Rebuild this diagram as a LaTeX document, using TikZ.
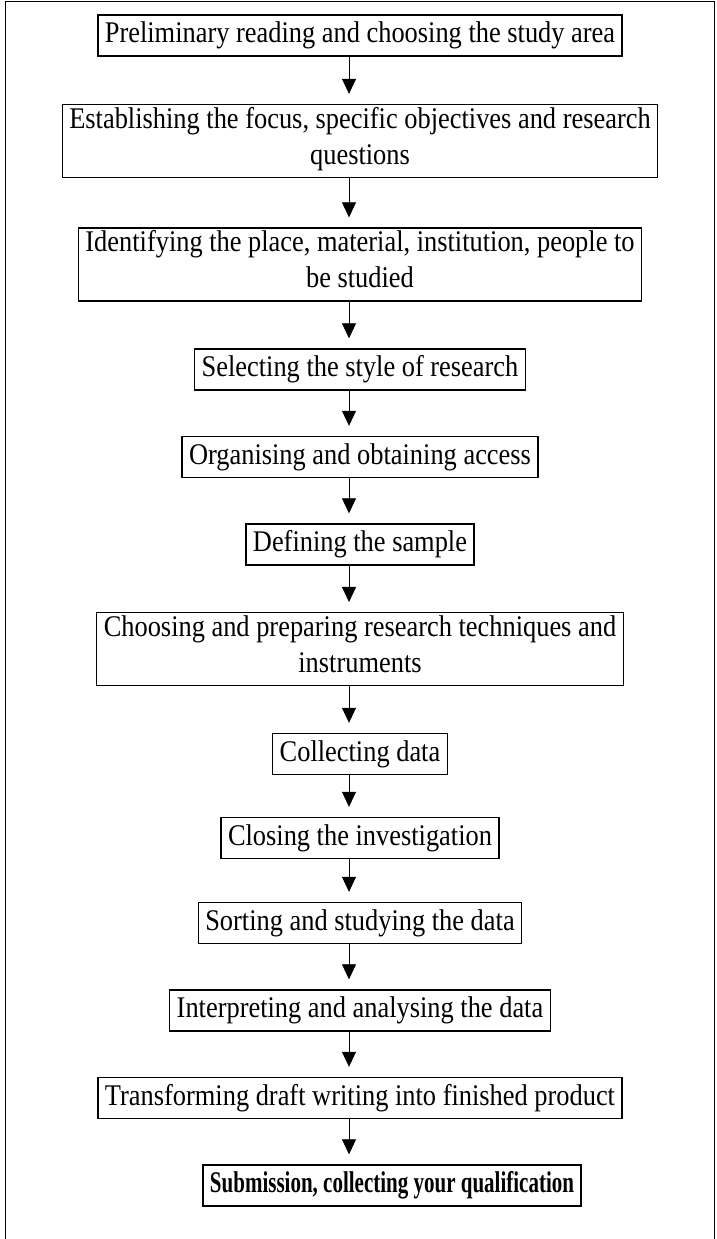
\documentclass[tikz,border=0pt]{standalone}
\usepackage{fontspec}
\setmainfont{Liberation Serif}[FakeStretch=0.88]
\newfontfamily\subfont{Liberation Serif}[FakeStretch=0.70]
\usetikzlibrary{arrows.meta}

\begin{document}
\begin{tikzpicture}[x=1pt,y=-1pt,->,>={Triangle[width=14pt,length=15pt]},shorten >=10pt,
                    main node/.style={rectangle,draw,line width=1.4pt,align=center,
                    inner xsep=7pt,inner ysep=2.5pt,font=\fontsize{30}{36}\selectfont,
                    execute at begin node=\strut,execute at end node=\strut}]
\useasboundingbox (0,0) rectangle (717,1239);
\draw[-,shorten >=0pt,line width=1pt] (5,1239) -- (5,2) -- (714,2) -- (714,1239);

\node[main node] (1) at (360,35.5) {Preliminary reading and choosing the study area};
\node[main node] (2) at (360,141) {Establishing the focus, specific objectives and research\\questions};
\node[main node] (3) at (360,264.5) {Identifying the place, material, institution, people to\\be studied};
\node[main node] (4) at (360,369.5) {Selecting the style of research};
\node[main node] (5) at (360,457) {Organising and obtaining access};
\node[main node] (6) at (360,544.5) {Defining the sample};
\node[main node] (7) at (360,649) {Choosing and preparing research techniques and\\instruments};
\node[main node] (8) at (360,754) {Collecting data};
\node[main node] (9) at (360,838) {Closing the investigation};
\node[main node] (10) at (360,923) {Sorting and studying the data};
\node[main node] (11) at (360,1010.5) {Interpreting and analysing the data};
\node[main node] (12) at (360,1098) {Transforming draft writing into finished product};
\node[main node] (13) at (392,1185.5) {\subfont\bfseries Submission, collecting your qualification};

\path[line width=0.8pt]
([xshift=-11pt]1.south) edge ([xshift=-11pt]2.north)
([xshift=-11pt]2.south) edge ([xshift=-11pt]3.north)
([xshift=-11pt]3.south) edge ([xshift=-11pt]4.north)
([xshift=-11pt]4.south) edge ([xshift=-11pt]5.north)
([xshift=-11pt]5.south) edge ([xshift=-11pt]6.north)
([xshift=-11pt]6.south) edge ([xshift=-11pt]7.north)
([xshift=-11pt]7.south) edge ([xshift=-11pt]8.north)
([xshift=-11pt]8.south) edge ([xshift=-11pt]9.north)
([xshift=-11pt]9.south) edge ([xshift=-11pt]10.north)
([xshift=-11pt]10.south) edge ([xshift=-11pt]11.north)
([xshift=-11pt]11.south) edge ([xshift=-11pt]12.north)
([xshift=-11pt]12.south) edge ([xshift=-11pt]12.south |- 13.north)
;

\end{tikzpicture}
\end{document}
